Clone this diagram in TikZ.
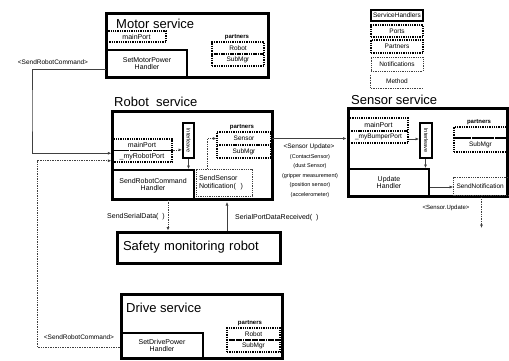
\documentclass[tikz,border=0pt]{standalone}
\usepackage{fontspec}
\setmainfont{Liberation Sans}
\usetikzlibrary{arrows.meta}
\newcommand\bx[7]{\node[inner sep=0pt,minimum width={(#4-#2)*1pt},minimum height={(#5-#3)*1pt},align=center,#6] (#1) at ({(#2+#4)/2},{(#3+#5)/2}) {#7};}
\begin{document}
\begin{tikzpicture}[x=1pt,y=-1pt,
 outer/.style={draw=black,line width=3pt},
 handler/.style={draw=black,line width=2pt,font=\fontsize{7}{7.5}\selectfont},
 port/.style={draw=black,densely dotted,line width=1.3pt,font=\fontsize{7}{8}\selectfont},
 partbox/.style={port,font=\fontsize{6.5}{7.5}\selectfont},
 notif/.style={draw=black!75,densely dotted,line width=0.8pt,font=\fontsize{7}{7.5}\selectfont},
 title/.style={anchor=west,inner sep=0pt,font=\fontsize{13}{15}\selectfont},
 plabel/.style={inner sep=0pt,font=\bfseries\fontsize{6}{7}\selectfont},
 lbl/.style={inner sep=0pt,font=\fontsize{7}{8}\selectfont},
 leg/.style={font=\fontsize{6.5}{7.5}\selectfont},
 tinylbl/.style={inner sep=0pt,font=\fontsize{5.5}{6.5}\selectfont},
 conn/.style={draw=black!75,line width=0.6pt},
 dconn/.style={draw=black!75,densely dotted,line width=0.7pt},
 arr/.style={-{Latex[length=3.5pt,width=3pt]}}]
\useasboundingbox (0,0) rectangle (509,360);

% ---------- Legend ----------
\bx{lsh}{371}{10}{423}{21}{handler,line width=1.6pt,leg}{ServiceHandlers}
\bx{lports}{371}{25}{423}{37}{port,leg}{Ports}
\bx{lpart}{371}{40}{423}{53}{port,leg}{Partners}
\bx{lnot}{371}{57}{423}{71}{notif,leg}{Notifications}
\bx{lmeth}{371}{75}{423}{88}{leg}{Method}
\draw[dconn] (lmeth.north west) -- (lmeth.south west) -- (lmeth.south east);

% ---------- Motor service ----------
\bx{mbox}{106}{13}{268}{77}{outer}{}
\node[title] (mtitle) at (116,24) {Motor service};
\bx{mmain}{107}{31}{166}{42}{port}{mainPort}
\bx{smh}{107}{50}{187}{77}{handler}{SetMotorPower\\Handler}
\node[plabel] (mpl) at (237,37) {partners};
\bx{mrob}{212}{42}{264}{54}{partbox}{Robot}
\bx{msub}{212}{54}{264}{66}{partbox}{SubMgr}
\node[lbl,font=\fontsize{6.5}{7.5}\selectfont] (mcmd) at (53,62) {<SendRobotCommand>};

% ---------- Robot service ----------
\node[title] (rtitle) at (114,102) {Robot~~service};
\bx{rbox}{112}{111}{272}{199}{outer}{}
\bx{rmain}{112}{139}{172}{150.5}{port}{mainPort}
\bx{rport}{112}{150.5}{172}{162}{port}{\_myRobotPort}
\bx{ril}{183}{123}{194}{158}{handler}{}
\node[rotate=-90,inner sep=0pt,font=\fontsize{5.5}{6}\selectfont] (rilt) at (ril.center) {Interleave};
\bx{srch}{112}{170}{194}{199}{handler}{SendRobotCommand\\Handler}
\bx{ssn}{196}{169}{252}{196}{notif,text width=50pt,inner xsep=3pt,align=left}{SendSensor\\Notification(\ \ )}
\node[plabel] (rpl) at (242,127) {partners};
\bx{rsens}{217}{132}{271}{145}{partbox}{Sensor}
\bx{rsub}{217}{145}{271}{158}{partbox}{SubMgr}

% ---------- Sensor service ----------
\node[title] (stitle) at (351,100) {Sensor service};
\bx{sbox}{348}{108}{507}{196}{outer}{}
\bx{smain}{349}{118}{408}{131}{port}{mainPort}
\bx{sport}{349}{131}{408}{143}{port,font=\fontsize{6.5}{7.5}\selectfont}{\_myBumperPort}
\bx{sil}{420}{123}{432}{158}{handler}{}
\node[rotate=-90,inner sep=0pt,font=\fontsize{5.5}{6}\selectfont] (silt) at (sil.center) {Interleave};
\bx{uh}{349}{169}{429}{196}{handler}{Update\\Handler}
\node[plabel] (spl) at (479,122) {partners};
\bx{sp1}{454}{127}{507}{138}{partbox}{}
\bx{ssub}{454}{138}{507}{152}{partbox}{SubMgr}
\bx{snot}{454}{177}{509}{195}{notif,text width=50pt,inner xsep=3pt,align=left,font=\fontsize{6.5}{7.5}\selectfont}{SendNotification}
\node[tinylbl,font=\fontsize{6}{7}\selectfont] (supd2) at (446,208) {<Sensor.Update>};
\coordinate (send) at (481.5,228);

% ---------- Sensor update labels ----------
\node[tinylbl,font=\fontsize{6.5}{7.5}\selectfont] (supd) at (309,147) {<Sensor Update>};
\node[tinylbl] (s1) at (310,157) {(ContactSensor)};
\node[tinylbl] (s2) at (310,166) {(dust Sensor)};
\node[tinylbl] (s3) at (310,176) {(gripper measurement)};
\node[tinylbl] (s4) at (310,185) {(position sensor)};
\node[tinylbl] (s5) at (310,195) {(accelerometer)};

% ---------- Safety monitoring robot ----------
\bx{safety}{117}{232}{280}{263}{outer,text width=151pt,inner xsep=6pt,align=left,font=\fontsize{13}{15}\selectfont}{Safety monitoring robot}
\node[lbl,anchor=east] (ssd) at (165,217) {SendSerialData(\ \ )};
\node[lbl,anchor=west] (spdr) at (235,218) {SerialPortDataReceived(\ \ )};

% ---------- Drive service ----------
\bx{dbox}{121}{294}{282}{358}{outer}{}
\node[title] (dtitle) at (126,308) {Drive service};
\bx{sdh}{121}{333}{203}{358}{handler}{SetDrivePower\\Handler}
\node[plabel] (dpl) at (250,323) {partners};
\bx{drob}{227}{328}{280}{340}{partbox}{Robot}
\bx{dsub}{227}{340}{280}{352}{partbox}{SubMgr}
\node[lbl,font=\fontsize{6.5}{7.5}\selectfont] (dcmd) at (79,337) {<SendRobotCommand>};

% ---------- Connectors ----------
\coordinate (ml) at (32,110);
\coordinate (dl) at (37,250);
\draw[conn,arr] ([yshift=-5.5pt]smh.west) -| (ml) |- ([yshift=3pt]rport.west);
\draw[dconn,arr] ([yshift=-1.5pt]sdh.west) -| (dl) |- ([yshift=-4.5pt]rport.west);
\draw[dconn,arr] (rport.north east) -- (rport.north east -| ril.west);
\draw[conn,arr] (ril.south) -- (ril.south |- srch.north);
\draw[dconn,arr] ([xshift=12pt]ssn.north west) |- (rsens.west);
\draw[conn,arr] (rsens.east) -- (rsens.east -| sbox.west);
\draw[conn,arr] ([yshift=-2pt]sport.east) -- ([yshift=-2pt]sport.east -| sil.west);
\draw[conn,arr] ([xshift=-0.5pt]sil.south) -- ([xshift=-0.5pt]sil.south |- uh.north);
\draw[conn,arr] ([yshift=-4.5pt]uh.east) -- ([yshift=-4.5pt]uh.east -| snot.west);
\draw[dconn,arr] (snot.south) -- (snot.south |- send);
\draw[dconn,arr] ([xshift=15pt]srch.south) -- ([xshift=15pt]srch.south |- safety.north);
\draw[conn,arr] ([xshift=35pt]rbox.south |- safety.north) -- ([xshift=35pt,yshift=-1.5pt]rbox.south);
\end{tikzpicture}
\end{document}
